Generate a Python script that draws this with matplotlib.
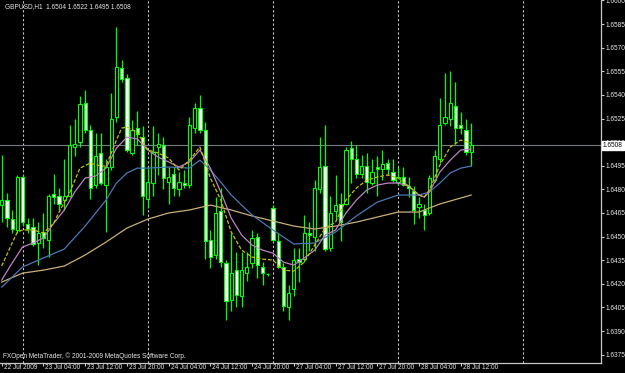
import numpy as np
import matplotlib
matplotlib.use("Agg")
import matplotlib.pyplot as plt
from matplotlib.transforms import ScaledTranslation, blended_transform_factory

# GBPUSD H1, one bar per hour from 22 Jul 2009 20:00 to 28 Jul 2009 14:00
opens = [1.6470, 1.6473, 1.6461, 1.6454, 1.6488, 1.6458, 1.6456, 1.6446, 1.6453, 1.6448,
         1.6477, 1.6476, 1.6473, 1.6476, 1.6507, 1.6510, 1.6535, 1.6518, 1.6483, 1.6503,
         1.6483, 1.6494, 1.6526, 1.6557, 1.6551, 1.6503, 1.6519, 1.6513, 1.6474, 1.6484,
         1.6507, 1.6508, 1.6485, 1.6490, 1.6480, 1.6484, 1.6483, 1.6519, 1.6532, 1.6518,
         1.6448, 1.6438, 1.6466, 1.6433, 1.6410, 1.6429, 1.6412, 1.6427, 1.6433, 1.6450,
         1.6431, 1.6426, 1.6468, 1.6447, 1.6431, 1.6405, 1.6417, 1.6436, 1.6436, 1.6452,
         1.6450, 1.6480, 1.6495, 1.6443, 1.6466, 1.6471, 1.6471, 1.6506, 1.6499, 1.6490,
         1.6495, 1.6484, 1.6494, 1.6493, 1.6497, 1.6491, 1.6485, 1.6488, 1.6482, 1.6479,
         1.6469, 1.6467, 1.6465, 1.6486, 1.6499, 1.6522, 1.6525, 1.6533, 1.6521, 1.6518,
         1.6504]
highs = [1.6502, 1.6478, 1.6467, 1.6489, 1.6489, 1.6462, 1.6462, 1.6459, 1.6465, 1.6477,
         1.6490, 1.6481, 1.6499, 1.6521, 1.6525, 1.6539, 1.6543, 1.6521, 1.6516, 1.6516,
         1.6499, 1.6541, 1.6583, 1.6562, 1.6553, 1.6524, 1.6530, 1.6520, 1.6494, 1.6520,
         1.6516, 1.6513, 1.6494, 1.6494, 1.6491, 1.6492, 1.6526, 1.6535, 1.6540, 1.6523,
         1.6454, 1.6475, 1.6481, 1.6435, 1.6452, 1.6440, 1.6440, 1.6440, 1.6454, 1.6452,
         1.6434, 1.6427, 1.6470, 1.6452, 1.6433, 1.6419, 1.6443, 1.6443, 1.6464, 1.6459,
         1.6486, 1.6513, 1.6521, 1.6476, 1.6489, 1.6478, 1.6507, 1.6511, 1.6508, 1.6502,
         1.6503, 1.6499, 1.6501, 1.6505, 1.6499, 1.6499, 1.6494, 1.6494, 1.6488, 1.6482,
         1.6475, 1.6471, 1.6489, 1.6505, 1.6538, 1.6554, 1.6555, 1.6548, 1.6529, 1.6525,
         1.6522]
lows = [1.6459, 1.6456, 1.6452, 1.6452, 1.6457, 1.6452, 1.6444, 1.6432, 1.6443, 1.6437,
        1.6471, 1.6467, 1.6467, 1.6475, 1.6501, 1.6507, 1.6516, 1.6474, 1.6481, 1.6483,
        1.6453, 1.6492, 1.6523, 1.6548, 1.6504, 1.6502, 1.6508, 1.6464, 1.6468, 1.6476,
        1.6489, 1.6480, 1.6471, 1.6476, 1.6476, 1.6481, 1.6481, 1.6516, 1.6516, 1.6436,
        1.6430, 1.6436, 1.6431, 1.6397, 1.6403, 1.6405, 1.6405, 1.6422, 1.6430, 1.6424,
        1.6419, 1.6425, 1.6447, 1.6430, 1.6403, 1.6397, 1.6412, 1.6421, 1.6434, 1.6441,
        1.6441, 1.6478, 1.6441, 1.6441, 1.6461, 1.6447, 1.6470, 1.6484, 1.6487, 1.6487,
        1.6478, 1.6483, 1.6476, 1.6486, 1.6489, 1.6485, 1.6483, 1.6482, 1.6475, 1.6458,
        1.6462, 1.6454, 1.6464, 1.6485, 1.6497, 1.6521, 1.6520, 1.6509, 1.6515, 1.6502,
        1.6495]
closes = [1.6473, 1.6462, 1.6455, 1.6488, 1.6459, 1.6455, 1.6445, 1.6452, 1.6449, 1.6476,
          1.6475, 1.6471, 1.6476, 1.6508, 1.6509, 1.6534, 1.6518, 1.6481, 1.6501, 1.6484,
          1.6494, 1.6525, 1.6558, 1.6550, 1.6505, 1.6518, 1.6515, 1.6476, 1.6485, 1.6504,
          1.6509, 1.6487, 1.6488, 1.6481, 1.6485, 1.6483, 1.6521, 1.6532, 1.6518, 1.6447,
          1.6437, 1.6465, 1.6434, 1.6409, 1.6427, 1.6413, 1.6429, 1.6431, 1.6449, 1.6432,
          1.6427, 1.6426, 1.6448, 1.6431, 1.6406, 1.6414, 1.6435, 1.6434, 1.6452, 1.6451,
          1.6481, 1.6494, 1.6442, 1.6465, 1.6470, 1.6459, 1.6505, 1.6499, 1.6490, 1.6495,
          1.6485, 1.6491, 1.6493, 1.6496, 1.6493, 1.6486, 1.6488, 1.6483, 1.6481, 1.6467,
          1.6471, 1.6464, 1.6487, 1.6501, 1.6521, 1.6526, 1.6535, 1.6519, 1.6519, 1.6504,
          1.6508]

# moving averages, read at a subset of bars
ma_fast_bars = [0, 2, 3, 4, 6, 8, 10, 11, 13, 15, 17, 19, 20, 22, 23, 24, 26, 28, 30, 32,
                34, 36, 38, 40, 42, 44, 46, 48, 50, 52, 54, 56, 58, 60, 62, 64, 66, 68, 70,
                72, 74, 76, 78, 80, 81, 82, 84, 86, 88, 90]
ma_fast = [1.64313, 1.64459, 1.64529, 1.64542, 1.64542, 1.64523, 1.64586, 1.64656, 1.64777,
           1.64935, 1.64967, 1.64948, 1.64948, 1.65113, 1.65189, 1.65196, 1.65164, 1.65050,
           1.65031, 1.64999, 1.64923, 1.64986, 1.65069, 1.64872, 1.64732, 1.64529, 1.64414,
           1.64370, 1.64357, 1.64351, 1.64287, 1.64281, 1.64338, 1.64446, 1.64554, 1.64592,
           1.64732, 1.64808, 1.64859, 1.64878, 1.64891, 1.64872, 1.64821, 1.64764, 1.64751,
           1.64796, 1.64954, 1.65069, 1.65113, 1.65094]
ma_mid_bars = [0, 2, 4, 6, 8, 10, 12, 14, 16, 18, 20, 22, 24, 26, 28, 30, 32, 34, 36, 38,
               40, 42, 44, 46, 48, 50, 52, 54, 56, 58, 60, 62, 64, 66, 68, 70, 72, 74, 76,
               78, 80, 81, 82, 84, 86, 88, 90]
ma_mid = [1.64224, 1.64332, 1.64434, 1.64459, 1.64491, 1.64586, 1.64669, 1.64783, 1.64872,
          1.64885, 1.64935, 1.65062, 1.65132, 1.65120, 1.65050, 1.65005, 1.64974, 1.64942,
          1.64974, 1.65050, 1.64935, 1.64783, 1.64618, 1.64510, 1.64446, 1.64414, 1.64395,
          1.64338, 1.64319, 1.64364, 1.64414, 1.64510, 1.64542, 1.64650, 1.64732, 1.64796,
          1.64827, 1.64840, 1.64840, 1.64821, 1.64764, 1.64751, 1.64783, 1.64910, 1.64986,
          1.65050, 1.65056]
ma_slow_bars = [0, 4, 8, 12, 16, 20, 22, 24, 26, 28, 32, 36, 38, 40, 42, 44, 48, 52, 56, 60,
                64, 68, 72, 76, 80, 82, 84, 86, 88, 90]
ma_slow = [1.64179, 1.64307, 1.64364, 1.64421, 1.64567, 1.64732, 1.64840, 1.64904, 1.64935,
           1.64935, 1.64942, 1.64935, 1.64986, 1.64923, 1.64846, 1.64764, 1.64637, 1.64542,
           1.64453, 1.64459, 1.64529, 1.64631, 1.64719, 1.64764, 1.64764, 1.64783, 1.64840,
           1.64904, 1.64935, 1.64948]
ma_long_bars = [0, 4, 8, 12, 16, 20, 24, 28, 32, 36, 40, 44, 48, 52, 56, 60, 64, 68, 72, 76,
                80, 84, 88, 90]
ma_long = [1.64211, 1.64268, 1.64287, 1.64313, 1.64383, 1.64465, 1.64554, 1.64611, 1.64650,
           1.64669, 1.64700, 1.64669, 1.64631, 1.64599, 1.64567, 1.64548, 1.64567, 1.64592,
           1.64624, 1.64656, 1.64656, 1.64707, 1.64745, 1.64764]

time_tick_bars = [0, 8, 16, 24, 32, 40, 48, 56, 64, 72, 80, 88]
time_tick_labels = ["22 Jul 2009", "23 Jul 04:00", "23 Jul 12:00", "23 Jul 20:00",
                    "24 Jul 04:00", "24 Jul 12:00", "24 Jul 20:00", "27 Jul 04:00",
                    "27 Jul 12:00", "27 Jul 20:00", "28 Jul 04:00", "28 Jul 12:00"]
day_start_bars = [4, 28, 52, 76, 100]

GREEN = "#00ff00"
FRAME = "#c8c8c8"
FONT = "Liberation Sans"
FS = 4.7

fig = plt.figure(figsize=(6.25, 3.73), dpi=100, facecolor="black")
ax = fig.add_axes([0, 10 / 373, 601 / 625, 363 / 373], facecolor="black")

o = np.array(opens)
c = np.array(closes)
x = np.arange(len(o))
up = c >= o
body_lo = np.minimum(o, c)
body_h = np.maximum(np.abs(c - o), 0.00005)

# day separators
for d in day_start_bars:
    ax.axvline(d, color=FRAME, lw=0.8, ls=(0, (2, 2)), zorder=1)

ax.axhline(closes[-1], color="#767c84", lw=0.8, zorder=1)

ax.vlines(x, lows, highs, color=GREEN, lw=0.9, zorder=2)
ax.bar(x[up], body_h[up], bottom=body_lo[up], width=0.62, color="black",
       edgecolor=GREEN, lw=0.8, zorder=3)
ax.bar(x[~up], body_h[~up], bottom=body_lo[~up], width=0.62, color="white",
       edgecolor=GREEN, lw=0.8, zorder=3)

ax.plot(ma_long_bars, ma_long, color="#c8b078", lw=0.9, zorder=4)
ax.plot(ma_slow_bars, ma_slow, color="#4a78b8", lw=0.9, zorder=4)
ax.plot(ma_mid_bars, ma_mid, color="#c080c8", lw=0.9, zorder=4)
ax.plot(ma_fast_bars, ma_fast, color="#c8c000", lw=0.9, ls=(0, (3, 1.5)), zorder=4)

px = 5.216  # pixels per bar
ax.set_xlim(-1.7 / px, (601 - 1.7) / px)
ax.set_ylim(1.63697, 1.66003)

for side in ["left", "top"]:
    ax.spines[side].set_visible(False)
for side in ["right", "bottom"]:
    ax.spines[side].set_color(FRAME)
    ax.spines[side].set_linewidth(0.9)

ax.yaxis.tick_right()
yt = np.arange(1.6375, 1.66001, 0.0015)
ax.set_yticks(yt)
ax.set_yticklabels(["%.4f" % v for v in yt], fontsize=FS, family=FONT, color="#e8e8e8")
ax.tick_params(axis="y", direction="out", length=2.2, width=0.8, color=FRAME, pad=0.8)

ax.set_xticks(time_tick_bars)
ax.set_xticklabels(time_tick_labels, fontsize=FS, family=FONT, color="#e8e8e8")
ax.tick_params(axis="x", direction="out", length=2.5, width=0.8, color=FRAME, pad=-1.8)
offset = ScaledTranslation(2 / 100, 0, fig.dpi_scale_trans)
for lbl in ax.get_xticklabels():
    lbl.set_horizontalalignment("left")
    lbl.set_transform(lbl.get_transform() + offset)

# bid price marker on the price scale
bt = blended_transform_factory(ax.transAxes, ax.transData)
ax.text(1.0 + 2 / 601, closes[-1], "%.4f" % closes[-1], transform=bt, ha="left",
        va="center", fontsize=FS, family=FONT, color="black", clip_on=False, zorder=10,
        bbox=dict(facecolor="white", edgecolor="white", pad=0.8))

ax.text(5 / 601, 1 - 7 / 363,
        "GBPUSD,H1  %.4f %.4f %.4f %.4f" % (opens[-1], highs[-1], lows[-1], closes[-1]),
        transform=ax.transAxes, ha="left", va="center", fontsize=FS, family=FONT,
        color="#e8e8e8")
ax.text(3 / 601, 7 / 363, "FXOpen MetaTrader, \u00a9 2001-2009 MetaQuotes Software Corp.",
        transform=ax.transAxes, ha="left", va="center", fontsize=FS, family=FONT,
        color="#e8e8e8")

fig.savefig("out.png", dpi=100, facecolor="black")
